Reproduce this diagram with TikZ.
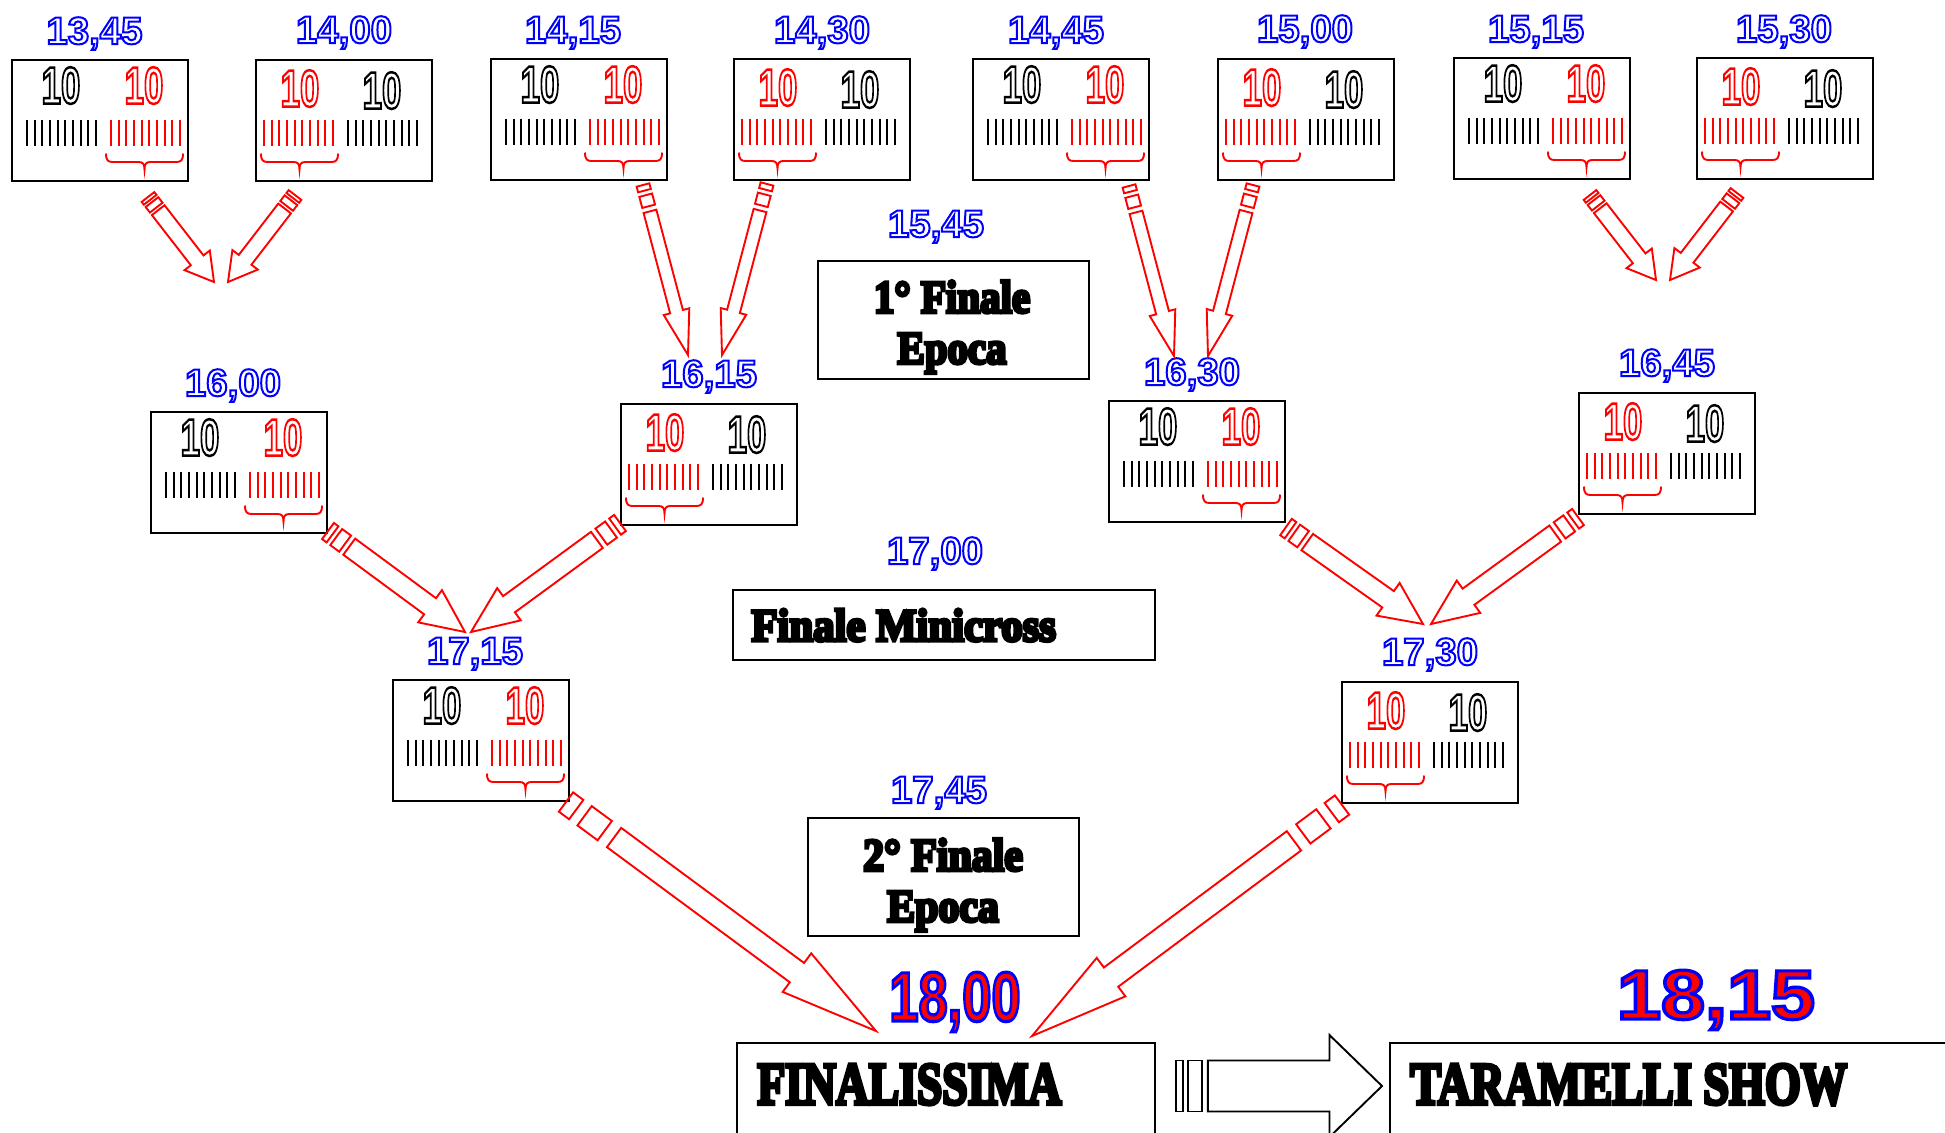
\documentclass[tikz,border=0pt]{standalone}
\usepackage{fontspec}
\setmainfont{Liberation Sans}
\newfontfamily\stencilfont{Liberation Serif}
\usetikzlibrary{calc}

\newcommand{\hollow}[3]{\special{pdf:code 1 Tr #1 w #2 RG}#3\special{pdf:code 0 Tr 0 0 0 RG 1 w}}
\newcommand{\filled}[4]{\special{pdf:code 2 Tr #1 w #2 RG #3 rg}#4\special{pdf:code 0 Tr 0 0 0 RG 0 0 0 rg 1 w}}
\newcommand{\heavy}[2]{\filled{#1}{0 0 0}{0 0 0}{#2}}
\newcommand{\ten}[1]{\hollow{1.25}{#1}{10}}
\newcommand{\hour}[1]{\hollow{1}{0 0 1}{#1}}
\newcommand{\bighour}[1]{\filled{1.6}{0 0 1}{1 0 0}{#1}}

\tikzstyle{scorebox} = [rectangle, draw=black, line width=1pt, minimum width=88pt, minimum height=60.5pt, inner sep=0pt, outer sep=0pt, anchor=north west]
\tikzstyle{finalbox} = [rectangle, draw=black, line width=1pt, inner sep=0pt, outer sep=0pt, anchor=north west]
\tikzstyle{scorenum} = [font=\bfseries\fontsize{26}{26}\selectfont, inner sep=0pt, anchor=base, xscale=0.67]
\tikzstyle{hourlabel} = [font=\bfseries\fontsize{19.2}{19.2}\selectfont, inner sep=0pt, anchor=base]
\tikzstyle{biglabel} = [font=\bfseries\fontsize{35}{35}\selectfont, inner sep=0pt, anchor=base]
\tikzstyle{stenciltext} = [font=\stencilfont\bfseries\fontsize{23}{25.5}\selectfont, inner sep=0pt, align=center]
\tikzstyle{bigstencil} = [font=\stencilfont\bfseries\fontsize{30}{30}\selectfont, inner sep=0pt, anchor=base west]
\tikzstyle{redarrow} = [draw=red, line width=0.95pt, line join=miter]
\tikzstyle{blackarrow} = [draw=black, line width=0.95pt, line join=miter]
\tikzstyle{tally} = [line width=0.95pt]
\tikzstyle{bracket} = [draw=red, line width=0.95pt]

\newcommand{\tallies}[2]{
    \foreach \i in {0,...,9}
        \draw [tally, #2] ({#1+7.67*\i},60) -- ({#1+7.67*\i},86);
}

\newcommand{\scorebrace}[1]{
    \draw [bracket] (#1,94) .. controls (#1,101) and (#1+2,102.5) .. (#1+7,102.5) -- (#1+32.5,102.5)
        .. controls (#1+36.5,102.5) and (#1+38.5,104) .. (#1+38.5,110)
        .. controls (#1+38.5,104) and (#1+40.5,102.5) .. (#1+44.5,102.5) -- (#1+70,102.5)
        .. controls (#1+75,102.5) and (#1+77,101) .. (#1+77,94);
}

\newcommand{\blackfirst}[3]{
    \node (#1) [scorebox] at (#2+1,#3+0.5) {};
    \begin{scope}[shift={(#1.north west)}]
        \node (#1l) [scorenum] at (49,44) {\ten{0 0 0}};
        \node (#1r) [scorenum] at (132,44) {\ten{1 0 0}};
        \tallies{15}{black}
        \tallies{99}{red}
        \scorebrace{94}
    \end{scope}
}

\newcommand{\redfirst}[3]{
    \node (#1) [scorebox] at (#2+1,#3+0.5) {};
    \begin{scope}[shift={(#1.north west)}]
        \node (#1l) [scorenum] at (44,47) {\ten{1 0 0}};
        \node (#1r) [scorenum] at (126,49) {\ten{0 0 0}};
        \tallies{8}{red}
        \tallies{92}{black}
        \scorebrace{5}
    \end{scope}
}

\newcommand{\stripearrow}[5]{
    \coordinate (#1a) at (#2);
    \coordinate (#1b) at (#3);
    \foreach \ta/\tb in {0/0.033, 0.06/0.125}
        \draw [#5] ($(#1a)!\ta!(#1b)!#4!90:(#1b)$) -- ($(#1a)!\tb!(#1b)!#4!90:(#1b)$)
            -- ($(#1a)!\tb!(#1b)!-#4!90:(#1b)$) -- ($(#1a)!\ta!(#1b)!-#4!90:(#1b)$) -- cycle;
    \draw [#5] ($(#1a)!0.155!(#1b)!#4!90:(#1b)$) -- ($(#1a)!0.745!(#1b)!#4!90:(#1b)$)
        -- ($(#1a)!0.745!(#1b)!2*#4!90:(#1b)$) -- (#1b)
        -- ($(#1a)!0.745!(#1b)!-2*#4!90:(#1b)$) -- ($(#1a)!0.745!(#1b)!-#4!90:(#1b)$)
        -- ($(#1a)!0.155!(#1b)!-#4!90:(#1b)$) -- cycle;
}

\begin{document}
\begin{tikzpicture}[x=0.5pt, y=-0.5pt]
    \clip (0,0) rectangle (1945,1132);

    \blackfirst{bA}{11}{59}
    \redfirst{bB}{255}{59}
    \blackfirst{bC}{490}{58}
    \redfirst{bD}{733}{58}
    \blackfirst{bE}{972}{58}
    \redfirst{bF}{1217}{58}
    \blackfirst{bG}{1453}{57}
    \redfirst{bH}{1696}{57}
    \blackfirst{bI}{150}{411}
    \redfirst{bJ}{620}{403}
    \blackfirst{bK}{1108}{400}
    \redfirst{bL}{1578}{392}
    \blackfirst{bM}{392}{679}
    \redfirst{bN}{1341}{681}

    \node (h1345) [hourlabel] at (94.5,44) {\hour{13,45}};
    \node (h1400) [hourlabel] at (344,43) {\hour{14,00}};
    \node (h1415) [hourlabel] at (573,43) {\hour{14,15}};
    \node (h1430) [hourlabel] at (822,43) {\hour{14,30}};
    \node (h1445) [hourlabel] at (1056,43) {\hour{14,45}};
    \node (h1500) [hourlabel] at (1305,42) {\hour{15,00}};
    \node (h1515) [hourlabel] at (1536,42) {\hour{15,15}};
    \node (h1530) [hourlabel] at (1784,42) {\hour{15,30}};
    \node (h1545) [hourlabel] at (936,237) {\hour{15,45}};
    \node (h1600) [hourlabel] at (233,396) {\hour{16,00}};
    \node (h1615) [hourlabel] at (709,387) {\hour{16,15}};
    \node (h1630) [hourlabel] at (1192,385) {\hour{16,30}};
    \node (h1645) [hourlabel] at (1667,376) {\hour{16,45}};
    \node (h1700) [hourlabel] at (935,564) {\hour{17,00}};
    \node (h1715) [hourlabel] at (475,664) {\hour{17,15}};
    \node (h1730) [hourlabel] at (1430,665) {\hour{17,30}};
    \node (h1745) [hourlabel] at (939,803) {\hour{17,45}};
    \node (h1800) [biglabel, xscale=0.75] at (955,1021) {\bighour{18,00}};
    \node (h1815) [biglabel, xscale=1.13] at (1716,1019) {\bighour{18,15}};

    \node (first) [finalbox, minimum width=135.5pt, minimum height=59pt] at (818,260.5) {};
    \node (firsttext) [stenciltext, xscale=0.89] at (952,327) {\heavy{1.7}{1° Finale}\\\heavy{1.7}{Epoca}};
    \node (mini) [finalbox, minimum width=211pt, minimum height=35pt] at (733,589.5) {};
    \node (minitext) [bigstencil, font=\stencilfont\bfseries\fontsize{23}{25.5}\selectfont, xscale=0.93] at (751,641) {\heavy{1.7}{Finale Minicross}};
    \node (second) [finalbox, minimum width=135.5pt, minimum height=59pt] at (808,817.5) {};
    \node (secondtext) [stenciltext, xscale=0.91] at (943,885) {\heavy{1.7}{2° Finale}\\\heavy{1.7}{Epoca}};
    \node (final) [finalbox, minimum width=209pt, minimum height=60pt] at (737,1042.5) {};
    \node (finaltext) [bigstencil, xscale=0.76] at (757,1104) {\heavy{2}{FINALISSIMA}};
    \node (show) [finalbox, minimum width=320pt, minimum height=60pt] at (1390,1042.5) {};
    \node (showtext) [bigstencil, xscale=0.77] at (1410,1104) {\heavy{2}{TARAMELLI SHOW}};

    \stripearrow{qA}{148,197}{214,282}{4pt}{redarrow}
    \stripearrow{qB}{295,195}{228,282}{4pt}{redarrow}
    \stripearrow{qC}{643,185}{688,355}{3.3pt}{redarrow}
    \stripearrow{qD}{767,184}{722,355}{3.3pt}{redarrow}
    \stripearrow{qE}{1129,186}{1174,356}{3.3pt}{redarrow}
    \stripearrow{qF}{1253,185}{1208,356}{3.3pt}{redarrow}
    \stripearrow{qG}{1590,195}{1656,280}{4pt}{redarrow}
    \stripearrow{qH}{1737,193}{1670,280}{4pt}{redarrow}
    \stripearrow{qI}{328,531}{465,632}{5pt}{redarrow}
    \stripearrow{qJ}{620,523}{471,632}{5pt}{redarrow}
    \stripearrow{qK}{1286,527}{1423,624}{5pt}{redarrow}
    \stripearrow{qL}{1578,517}{1431,624}{5pt}{redarrow}
    \stripearrow{qM}{566,802}{876,1031}{6pt}{redarrow}
    \stripearrow{qN}{1342,805}{1032,1036}{6pt}{redarrow}
    \stripearrow{qO}{1176,1086}{1382,1086}{12.75pt}{blackarrow}
\end{tikzpicture}
\end{document}
